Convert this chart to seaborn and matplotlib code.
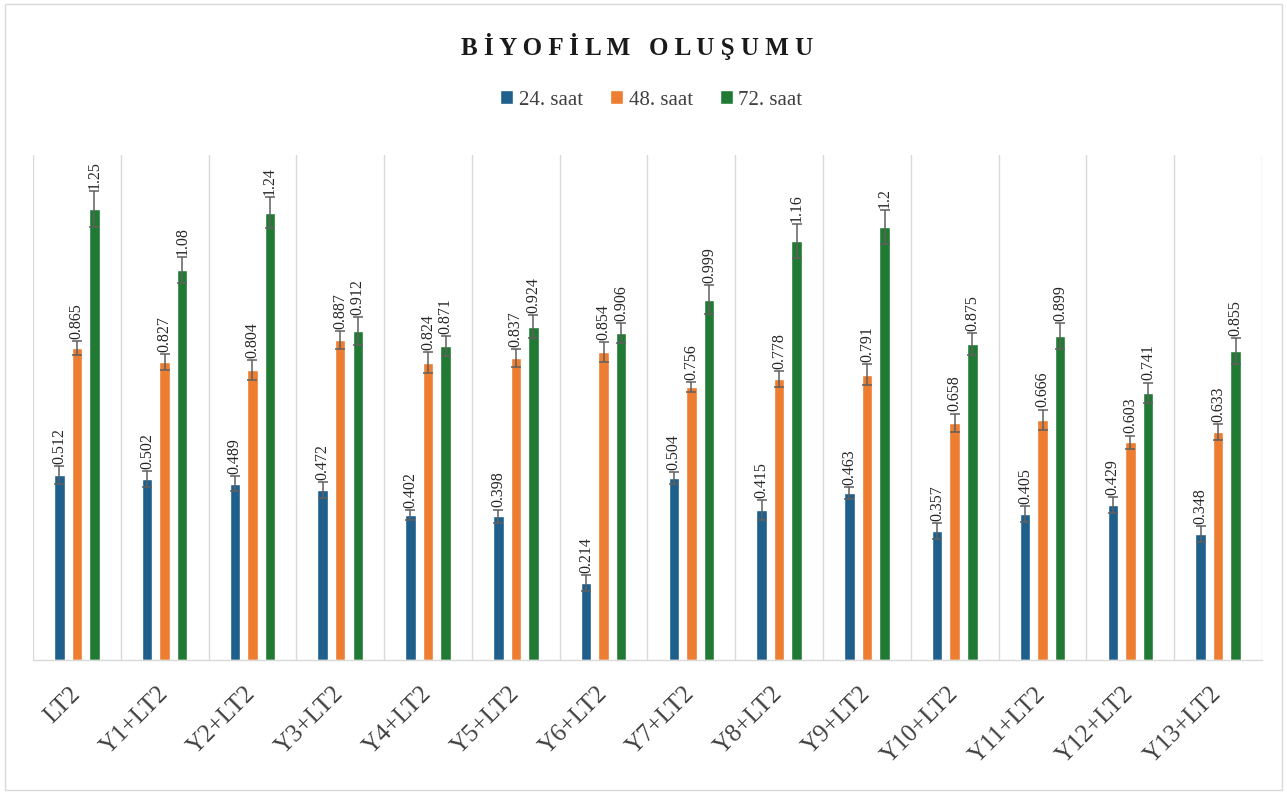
import matplotlib
matplotlib.use("Agg")
import matplotlib.pyplot as plt
from matplotlib.patches import Rectangle
import seaborn as sns
import pandas as pd
import numpy as np

# Groups and sampling times
groups = ["LT2", "Y1+LT2", "Y2+LT2", "Y3+LT2", "Y4+LT2", "Y5+LT2", "Y6+LT2",
          "Y7+LT2", "Y8+LT2", "Y9+LT2", "Y10+LT2", "Y11+LT2", "Y12+LT2", "Y13+LT2"]
times = ["24. saat", "48. saat", "72. saat"]

# Mean biofilm values (OD) per sampling time
od_24 = [0.512, 0.502, 0.489, 0.472, 0.402, 0.398, 0.214, 0.504, 0.415, 0.463, 0.357, 0.405, 0.429, 0.348]
od_48 = [0.865, 0.827, 0.804, 0.887, 0.824, 0.837, 0.854, 0.756, 0.778, 0.791, 0.658, 0.666, 0.603, 0.633]
od_72 = [1.25, 1.08, 1.24, 0.912, 0.871, 0.924, 0.906, 0.999, 1.16, 1.2, 0.875, 0.899, 0.741, 0.855]

# Standard deviations
sd_24 = [0.025, 0.022, 0.022, 0.022, 0.014, 0.019, 0.022, 0.017, 0.028, 0.017, 0.022, 0.022, 0.022, 0.022]
sd_48 = [0.020, 0.022, 0.028, 0.025, 0.030, 0.025, 0.028, 0.014, 0.022, 0.028, 0.025, 0.028, 0.019, 0.022]
sd_72 = [0.050, 0.036, 0.042, 0.039, 0.028, 0.033, 0.028, 0.039, 0.047, 0.047, 0.030, 0.036, 0.028, 0.036]

colors = ["#1f5f8b", "#ed7d31", "#217a34"]

sns.set_style("white")
plt.rcParams["font.family"] = ["Liberation Serif", "DejaVu Serif"]

df = pd.DataFrame({
    "grup": groups * 3,
    "zaman": np.repeat(times, len(groups)),
    "od": od_24 + od_48 + od_72,
    "sd": sd_24 + sd_48 + sd_72,
})

fig = plt.figure(figsize=(12.87, 7.94), dpi=100)
ax = fig.add_axes([0.0256, 0.1688, 0.955, 0.6362])

sns.barplot(data=df, x="grup", y="od", hue="zaman", order=groups, hue_order=times,
            palette=colors, width=0.6, gap=0.40, errorbar=None, ax=ax,
            legend=True, saturation=1)

sd_by_time = [sd_24, sd_48, sd_72]
od_by_time = [od_24, od_48, od_72]
for cont, sds, vals in zip(ax.containers, sd_by_time, od_by_time):
    xs = [b.get_x() + b.get_width() / 2 for b in cont]
    ax.errorbar(xs, vals, yerr=sds, fmt="none", ecolor="#5f5f5f",
                elinewidth=1.1, capsize=3.5, capthick=1.1, zorder=3)
    for x, v, s in zip(xs, vals, sds):
        ax.annotate(f"{v:g}", xy=(x, v + s), xytext=(0, 1.5),
                    textcoords="offset points", rotation=90,
                    ha="center", va="bottom", fontsize=11.5, color="#262626",
                    annotation_clip=False)

ax.set_xlim(-0.5, len(groups) - 0.5)
ax.set_ylim(0, 1.4)
ax.set_yticks([])
ax.set_xlabel("")
ax.set_ylabel("")

# Category separators
for b in np.arange(-0.5, len(groups), 1.0):
    ax.axvline(b, color="#d9d9d9", lw=1.0, zorder=0)

for side in ["top", "left", "right"]:
    ax.spines[side].set_visible(False)
ax.spines["bottom"].set_color("#d9d9d9")
ax.spines["bottom"].set_linewidth(1.0)

ax.tick_params(axis="x", length=0, pad=22)
for lbl in ax.get_xticklabels():
    lbl.set_rotation(45)
    lbl.set_ha("right")
    lbl.set_va("center")
    lbl.set_rotation_mode("anchor")
    lbl.set_fontsize(18)
    lbl.set_color("#404040")

handles, labels = ax.get_legend_handles_labels()
ax.get_legend().remove()
fig.legend(handles, labels, loc="center", bbox_to_anchor=(0.506, 0.874), ncol=3,
           frameon=False, fontsize=15, handlelength=0.65, handleheight=0.65,
           handletextpad=0.25, columnspacing=1.3, labelcolor="#404040")

fig.text(0.495, 0.941, "B İ Y O F İ L M   O L U Ş U M U", ha="center", va="center",
         fontsize=18, fontweight="bold", color="#1a1a1a")

fig.add_artist(Rectangle((0.004, 0.005), 0.992, 0.99, transform=fig.transFigure,
                         fill=False, edgecolor="#d9d9d9", lw=1.0))

fig.savefig("out.png", dpi=100)
